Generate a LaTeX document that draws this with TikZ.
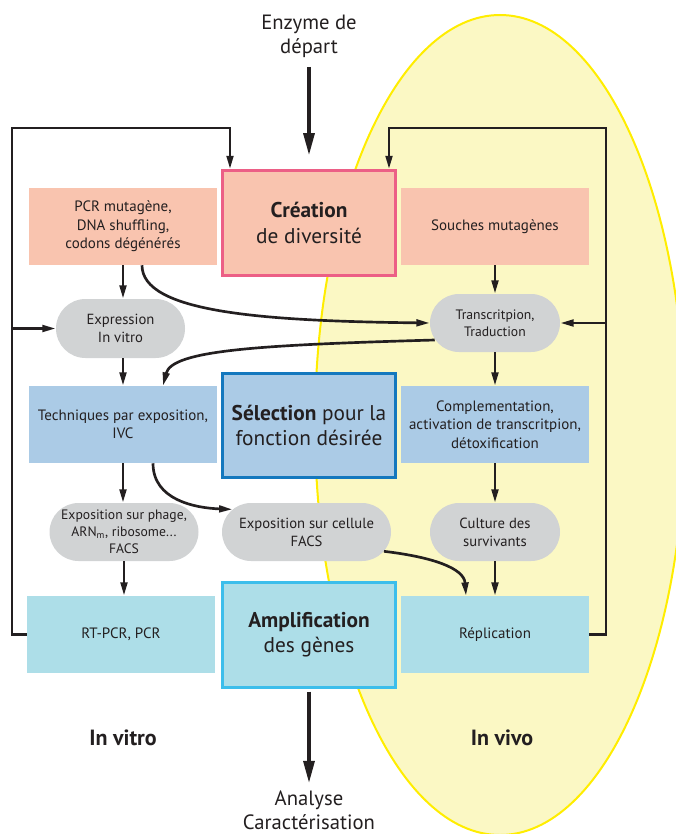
\documentclass[tikz,border=0pt]{standalone}
\usepackage{fontspec}
\setmainfont{PT Sans}
\usetikzlibrary{arrows.meta,calc,positioning,shapes.misc}
\definecolor{inkgray}{RGB}{35,31,32}
\definecolor{creafill}{RGB}{249,196,175}
\definecolor{creaedge}{RGB}{236,95,134}
\definecolor{selfill}{RGB}{171,203,230}
\definecolor{seledge}{RGB}{20,120,190}
\definecolor{ampfill}{RGB}{173,222,232}
\definecolor{ampedge}{RGB}{60,190,235}
\definecolor{pillgray}{RGB}{209,211,212}
\definecolor{vivofill}{RGB}{251,248,196}
\definecolor{vivoedge}{RGB}{255,237,0}

\begin{document}
\begin{tikzpicture}[x=0.75pt,y=-0.75pt,
                    every node/.style={text=inkgray,align=center,inner sep=0pt},
                    smallbox/.style={rectangle,minimum width=141pt,minimum height=57.75pt,
                                     font=\fontsize{11.25}{13.75}\selectfont},
                    bigbox/.style={rectangle,line width=2.25pt,minimum width=129.75pt,
                                   minimum height=78.5pt,font=\fontsize{16}{19}\selectfont},
                    pill/.style={rounded rectangle,fill=pillgray,minimum height=43.5pt,
                                 font=\fontsize{11}{13.5}\selectfont},
                    flow/.style={draw=inkgray,line width=2pt,-{Triangle[length=10pt,width=5pt]}},
                    mainflow/.style={draw=inkgray,line width=3pt,-{Triangle[length=17pt,width=8pt]}},
                    biglabel/.style={font=\fontsize{15.5}{18}\selectfont}]

  \useasboundingbox (0,0) rectangle (675,834);

  % --- in vivo zone --------------------------------------------------------
  \draw[fill=vivofill,draw=vivoedge,line width=1.5pt] (500,425) ellipse [x radius=185,y radius=410];

  % --- central column -------------------------------------------------------
  \node[bigbox,fill=creafill,draw=creaedge] (crea) at (309,223) {\textbf{Création}\\de diversité};
  \node[bigbox,fill=selfill,draw=seledge] (sel) at (309,425.5) {\textbf{Sélection} pour la\\fonction désirée};
  \node[bigbox,fill=ampfill,draw=ampedge] (amp) at (309,635) {\textbf{Amplification}\\des gènes};

  \node[biglabel] (start) at (309,36) {Enzyme de\\départ};
  \node[biglabel] (end) at (309,810) {Analyse\\Caractérisation};

  % --- in vitro column ------------------------------------------------------
  \node[smallbox,fill=creafill] (pcr) at (123,226.5) {PCR mutagène,\\DNA shuffling,\\codons dégénérés};
  \node[pill,minimum width=96.75pt,minimum height=44.25pt] (expr) at (120.5,328.5) {Expression\\In vitro};
  \node[smallbox,fill=selfill] (tech) at (123,424.5) {Techniques par exposition,\\IVC};
  \node[pill,minimum width=111.75pt,font=\fontsize{10.25}{12.75}\selectfont] (phage) at (124,532)
      {Exposition sur phage,\\ARN\textsubscript{m}, ribosome...\\FACS};
  \node[pill,minimum width=126.75pt] (cell) at (306.5,532) {Exposition sur cellule\\FACS};
  \node[smallbox,fill=ampfill] (rtpcr) at (121,634.5) {RT-PCR, PCR};

  % --- in vivo column -------------------------------------------------------
  \node[smallbox,fill=creafill] (souches) at (495,226.5) {Souches mutagènes};
  \node[pill,minimum width=97.5pt,font=\fontsize{10.25}{12.75}\selectfont] (trans) at (495,323)
      {Transcritpion,\\Traduction};
  \node[smallbox,fill=selfill] (comp) at (495,424.5)
      {Complementation,\\activation de transcritpion,\\détoxification};
  \node[pill,minimum width=97.5pt] (cult) at (495,532) {Culture des\\survivants};
  \node[smallbox,fill=ampfill] (repl) at (495,634.5) {Réplication};

  \node[font=\fontsize{16.5}{18}\selectfont\bfseries] (vitro) at (123,738) {In vitro};
  \node[font=\fontsize{16.5}{18}\selectfont\bfseries] (vivo) at (502,738) {In vivo};

  % --- main line --------------------------------------------------------------
  \draw[mainflow,shorten <=7pt,shorten >=10pt] (start) -- (crea);
  \draw[mainflow,shorten <=2pt,shorten >=5pt] (amp) -- (end);

  % --- feedback loops ---------------------------------------------------------
  \coordinate (lefttop) at (12,128);
  \coordinate (righttop) at (606,128);
  \draw[flow] (rtpcr.west) -| (lefttop) -| ($(crea.north west)+(9,0)$);
  \draw[flow] (lefttop |- expr.west) -- (expr.west);
  \draw[flow] (repl.east) -| (righttop) -| ($(crea.north east)+(-8,0)$);
  \draw[flow] (righttop |- trans.east) -- (trans.east);

  % --- straight steps ---------------------------------------------------------
  \draw[flow] (pcr.south) -- (pcr.south |- expr.north);
  \draw[flow] (tech.north |- expr.south) -- (tech.north);
  \draw[flow] (tech.south) -- (tech.south |- phage.north);
  \draw[flow] (phage.south) -- (phage.south |- rtpcr.north);
  \draw[flow] (souches.south) -- (trans.north);
  \draw[flow] (trans.south) -- (comp.north);
  \draw[flow] (comp.south) -- (cult.north);
  \draw[flow] (cult.south) -- (repl.north);

  % --- crossing curves --------------------------------------------------------
  \draw[flow] ($(pcr.south)+(19,0)$) .. controls (142,312) and (260,321) .. (trans.west);
  \draw[flow] ($(trans.west)+(5,17)$) .. controls (260,345) and (172,350) .. ($(tech.north)+(40,0)$);
  \draw[flow] ($(tech.south)+(30,0)$) .. controls (153,500) and (195,508) .. (cell.163);
  \draw[flow] (cell.-14) .. controls (432,557) and (464,568) .. ($(repl.north)+(-29,0)$);
\end{tikzpicture}
\end{document}
